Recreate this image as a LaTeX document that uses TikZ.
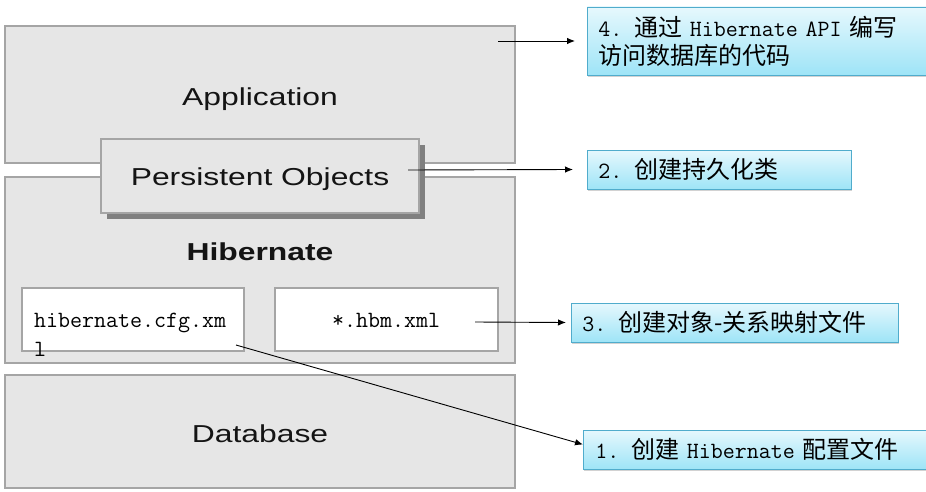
\documentclass[tikz,border=0pt]{standalone}
\usepackage{fontspec}
\usetikzlibrary{arrows.meta,shadows,calc}
\newfontfamily\labfont[FakeStretch=1.3]{Liberation Sans}
\newfontfamily\cjkfont{Noto Sans CJK SC}
\newcommand\monofont{\ttfamily}
\newcommand\Cj[1]{{\fontsize{24}{28}\selectfont\cjkfont #1}}
\definecolor{boxfill}{RGB}{230,230,230}
\definecolor{boxedge}{RGB}{165,165,165}
\definecolor{calTop}{RGB}{230,248,253}
\definecolor{calBot}{RGB}{158,228,247}
\definecolor{calEdge}{RGB}{80,172,204}
\definecolor{labtext}{RGB}{20,20,20}
\tikzset{
  graybox/.style={draw=boxedge, fill=boxfill, line width=1.2pt, inner sep=0pt},
  whitebox/.style={draw=boxedge, fill=white, line width=1.2pt, inner sep=0pt},
  labeltext/.style={font=\labfont\fontsize{24.5}{28}\selectfont, text=labtext, inner sep=0pt, anchor=base},
  monotext/.style={font=\monofont\fontsize{23.3}{28}\selectfont, text=black, inner sep=0pt, anchor=base west},
  callout/.style={draw=calEdge, line width=0.9pt, top color=calTop, bottom color=calBot,
    drop shadow={shadow xshift=1pt, shadow yshift=-2pt, opacity=0.35},
    anchor=west, align=left, inner ysep=0pt,
    font=\monofont\fontsize{23.3}{28}\selectfont, text=black},
  arr/.style={draw=black, line width=0.9pt, -{Latex[length=8pt,width=6.5pt]}}
}
\begin{document}
\begin{tikzpicture}[x=1pt, y=-1pt]
\useasboundingbox (0,0) rectangle (926,492);
\clip (0,0) rectangle (926,492);
\fill[white] (0,0) rectangle (926,492);

% main layers
\node[graybox, minimum width=510pt, minimum height=137pt] (app) at (260,94.5) {};
\node[graybox, minimum width=510pt, minimum height=186pt] (hib) at (260,270) {};
\node[graybox, minimum width=510pt, minimum height=113pt] (db) at (260,431.5) {};
\node[whitebox, minimum width=222pt, minimum height=63pt] (cfg) at (133,319.5) {};
\node[whitebox, minimum width=223pt, minimum height=63pt] (hbm) at (386.5,319.5) {};
\node[graybox, minimum width=318pt, minimum height=74pt,
  drop shadow={shadow xshift=6pt, shadow yshift=-6pt, fill=gray, opacity=1}] (pers) at (260,176) {};

% labels
\node[labeltext] (appL) at (260,106) {Application};
\node[labeltext] (persL) at (260,185) {Persistent Objects};
\node[labeltext, font=\labfont\bfseries\fontsize{24.5}{28}\selectfont] (hibL) at (260,260) {Hibernate};
\node[labeltext] (dbL) at (260,442) {Database};
\node[monotext] (cfgA) at (34,327) {hibernate.cfg.xm};
\node[monotext] (cfgB) at (34,356) {l};
\node[monotext] (hbmL) at (332,327) {*.hbm.xml};

% callouts
\node[callout, minimum height=68pt, inner xsep=11pt, text width=351pt] (c4) at (587,41)
  {4. \Cj{通过} Hibernate API \Cj{编写}\\\Cj{访问数据库的代码}};
\node[callout, minimum height=39pt, inner xsep=11pt, text width=242pt] (c2) at (587,169.5)
  {2. \Cj{创建持久化类}};
\node[callout, minimum height=39pt, inner xsep=11pt, text width=305pt] (c3) at (571,322.5)
  {3. \Cj{创建对象-关系映射文件}};
\node[callout, minimum height=39pt, inner xsep=12pt, text width=353pt] (c1) at (583,449.5)
  {1. \Cj{创建} Hibernate \Cj{配置文件}};

% connectors
\coordinate (s4) at (498,41);
\coordinate (s2) at (408,170);
\coordinate (s3) at (475,322);
\coordinate (s1) at (236,345);
\draw[arr] (s4) -- ($(c4.west)+(-12,0)$);
\draw[arr] (s2) -- ($(c2.west)+(-14,0)$);
\draw[arr] (s3) -- ($(c3.west)+(-5,0)$);
\draw[arr] (s1) -- ($(c1.west)+(0,-5)$);
\end{tikzpicture}
\end{document}
